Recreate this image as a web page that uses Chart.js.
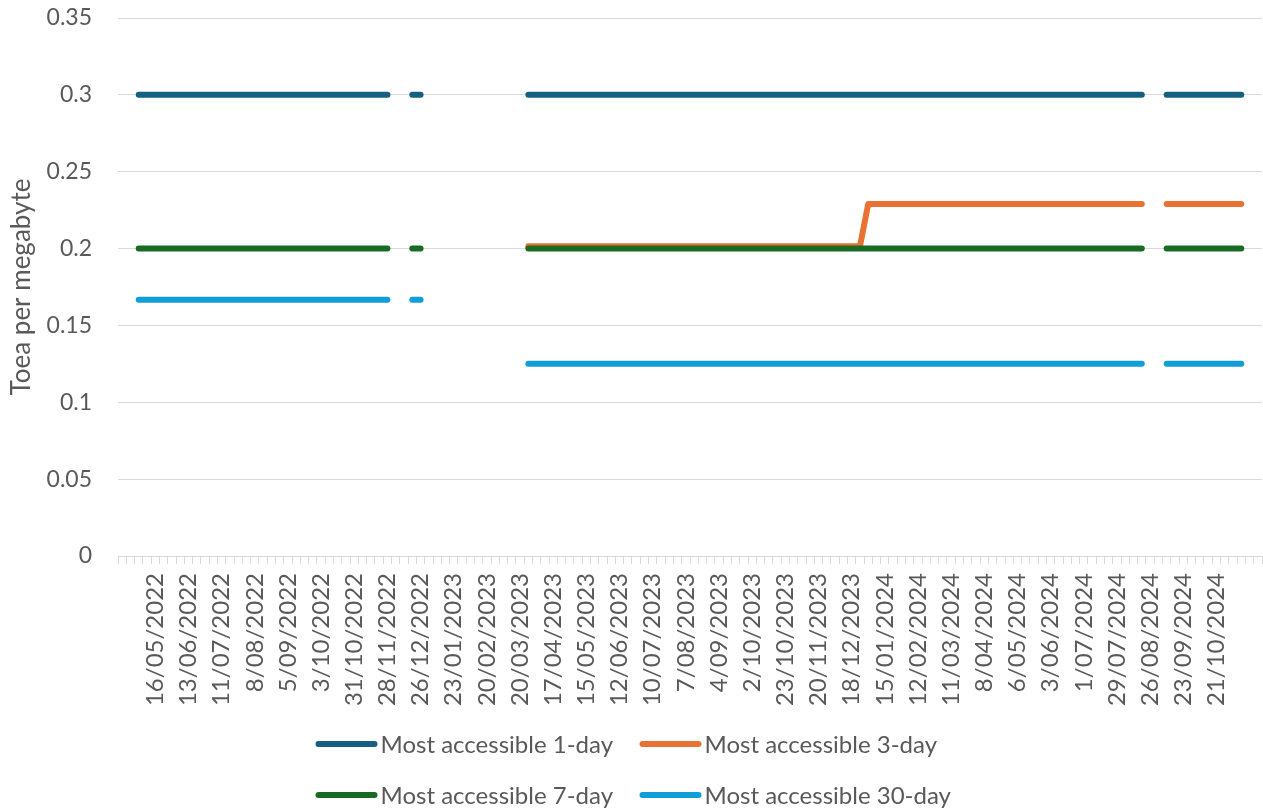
<!DOCTYPE html>
<html>
<head>
<meta charset="utf-8">
<script src="https://cdn.jsdelivr.net/npm/chart.js@4.4.1/dist/chart.umd.min.js"></script>
<style>
  html, body { margin: 0; padding: 0; background: #ffffff; }
  #c { display: block; }
</style>
</head>
<body>
<canvas id="c" width="1263" height="810"></canvas>
<script>
const _ = null;

// Visible tick labels (every 4th category, starting at category index 4)
const tickLabels = [
  '16/05/2022','13/06/2022','11/07/2022','8/08/2022','5/09/2022','3/10/2022',
  '31/10/2022','28/11/2022','26/12/2022','23/01/2023','20/02/2023','20/03/2023',
  '17/04/2023','15/05/2023','12/06/2023','10/07/2023','7/08/2023','4/09/2023',
  '2/10/2023','23/10/2023','20/11/2023','18/12/2023','15/01/2024','12/02/2024',
  '11/03/2024','8/04/2024','6/05/2024','3/06/2024','1/07/2024','29/07/2024',
  '26/08/2024','23/09/2024','21/10/2024'
];
const categoryCount = 138;
const firstLabelIndex = 4;
const labelEvery = 4;

const seriesNames = [
  'Most accessible 1-day',
  'Most accessible 3-day',
  'Most accessible 7-day',
  'Most accessible 30-day'
];

const oneDay = [
  _, _,
  0.3, 0.3, 0.3, 0.3, 0.3, 0.3, 0.3, 0.3, 0.3, 0.3,
  0.3, 0.3, 0.3, 0.3, 0.3, 0.3, 0.3, 0.3, 0.3, 0.3,
  0.3, 0.3, 0.3, 0.3, 0.3, 0.3, 0.3, 0.3, 0.3, 0.3,
  0.3,
  _, _,
  0.3, 0.3,
  _, _, _, _, _, _, _, _, _, _, _, _,
  0.3, 0.3, 0.3, 0.3, 0.3, 0.3, 0.3, 0.3, 0.3, 0.3,
  0.3, 0.3, 0.3, 0.3, 0.3, 0.3, 0.3, 0.3, 0.3, 0.3,
  0.3, 0.3, 0.3, 0.3, 0.3, 0.3, 0.3, 0.3, 0.3, 0.3,
  0.3, 0.3, 0.3, 0.3, 0.3, 0.3, 0.3, 0.3, 0.3, 0.3,
  0.3, 0.3, 0.3, 0.3, 0.3, 0.3, 0.3, 0.3, 0.3, 0.3,
  0.3, 0.3, 0.3, 0.3, 0.3, 0.3, 0.3, 0.3, 0.3, 0.3,
  0.3, 0.3, 0.3, 0.3, 0.3, 0.3, 0.3, 0.3, 0.3, 0.3,
  0.3, 0.3, 0.3, 0.3, 0.3,
  _, _,
  0.3, 0.3, 0.3, 0.3, 0.3, 0.3, 0.3, 0.3, 0.3, 0.3,
  _, _
];

const threeDay = [
  _, _,
  _, _, _, _, _, _, _, _, _, _,
  _, _, _, _, _, _, _, _, _, _,
  _, _, _, _, _, _, _, _, _, _,
  _,
  _, _,
  _, _,
  _, _, _, _, _, _, _, _, _, _, _, _,
  0.2015, 0.2015, 0.2015, 0.2015, 0.2015, 0.2015, 0.2015, 0.2015, 0.2015, 0.2015,
  0.2015, 0.2015, 0.2015, 0.2015, 0.2015, 0.2015, 0.2015, 0.2015, 0.2015, 0.2015,
  0.2015, 0.2015, 0.2015, 0.2015, 0.2015, 0.2015, 0.2015, 0.2015, 0.2015, 0.2015,
  0.2015, 0.2015, 0.2015, 0.2015, 0.2015, 0.2015, 0.2015, 0.2015, 0.2015, 0.2015,
  0.2015, 0.229, 0.229, 0.229, 0.229, 0.229, 0.229, 0.229, 0.229, 0.229,
  0.229, 0.229, 0.229, 0.229, 0.229, 0.229, 0.229, 0.229, 0.229, 0.229,
  0.229, 0.229, 0.229, 0.229, 0.229, 0.229, 0.229, 0.229, 0.229, 0.229,
  0.229, 0.229, 0.229, 0.229, 0.229,
  _, _,
  0.229, 0.229, 0.229, 0.229, 0.229, 0.229, 0.229, 0.229, 0.229, 0.229,
  _, _
];

const sevenDay = [
  _, _,
  0.2, 0.2, 0.2, 0.2, 0.2, 0.2, 0.2, 0.2, 0.2, 0.2,
  0.2, 0.2, 0.2, 0.2, 0.2, 0.2, 0.2, 0.2, 0.2, 0.2,
  0.2, 0.2, 0.2, 0.2, 0.2, 0.2, 0.2, 0.2, 0.2, 0.2,
  0.2,
  _, _,
  0.2, 0.2,
  _, _, _, _, _, _, _, _, _, _, _, _,
  0.2, 0.2, 0.2, 0.2, 0.2, 0.2, 0.2, 0.2, 0.2, 0.2,
  0.2, 0.2, 0.2, 0.2, 0.2, 0.2, 0.2, 0.2, 0.2, 0.2,
  0.2, 0.2, 0.2, 0.2, 0.2, 0.2, 0.2, 0.2, 0.2, 0.2,
  0.2, 0.2, 0.2, 0.2, 0.2, 0.2, 0.2, 0.2, 0.2, 0.2,
  0.2, 0.2, 0.2, 0.2, 0.2, 0.2, 0.2, 0.2, 0.2, 0.2,
  0.2, 0.2, 0.2, 0.2, 0.2, 0.2, 0.2, 0.2, 0.2, 0.2,
  0.2, 0.2, 0.2, 0.2, 0.2, 0.2, 0.2, 0.2, 0.2, 0.2,
  0.2, 0.2, 0.2, 0.2, 0.2,
  _, _,
  0.2, 0.2, 0.2, 0.2, 0.2, 0.2, 0.2, 0.2, 0.2, 0.2,
  _, _
];

const thirtyDay = [
  _, _,
  0.1667, 0.1667, 0.1667, 0.1667, 0.1667, 0.1667, 0.1667, 0.1667, 0.1667, 0.1667,
  0.1667, 0.1667, 0.1667, 0.1667, 0.1667, 0.1667, 0.1667, 0.1667, 0.1667, 0.1667,
  0.1667, 0.1667, 0.1667, 0.1667, 0.1667, 0.1667, 0.1667, 0.1667, 0.1667, 0.1667,
  0.1667,
  _, _,
  0.1667, 0.1667,
  _, _, _, _, _, _, _, _, _, _, _, _,
  0.125, 0.125, 0.125, 0.125, 0.125, 0.125, 0.125, 0.125, 0.125, 0.125,
  0.125, 0.125, 0.125, 0.125, 0.125, 0.125, 0.125, 0.125, 0.125, 0.125,
  0.125, 0.125, 0.125, 0.125, 0.125, 0.125, 0.125, 0.125, 0.125, 0.125,
  0.125, 0.125, 0.125, 0.125, 0.125, 0.125, 0.125, 0.125, 0.125, 0.125,
  0.125, 0.125, 0.125, 0.125, 0.125, 0.125, 0.125, 0.125, 0.125, 0.125,
  0.125, 0.125, 0.125, 0.125, 0.125, 0.125, 0.125, 0.125, 0.125, 0.125,
  0.125, 0.125, 0.125, 0.125, 0.125, 0.125, 0.125, 0.125, 0.125, 0.125,
  0.125, 0.125, 0.125, 0.125, 0.125,
  _, _,
  0.125, 0.125, 0.125, 0.125, 0.125, 0.125, 0.125, 0.125, 0.125, 0.125,
  _, _
];

const seriesColors = ['#156082', '#E97132', '#196B24', '#0F9ED5'];

// Build the category list: only every 4th category carries a visible label
const categories = Array.from({ length: categoryCount }, (v, i) => {
  const j = (i - firstLabelIndex) / labelEvery;
  return (Number.isInteger(j) && j >= 0 && j < tickLabels.length) ? tickLabels[j] : '';
});

const FONT = 'Lato, "Open Sans", "DejaVu Sans", sans-serif';
const TEXT = '#595959';
const GRID = '#D9D9D9';

const allSeries = [oneDay, threeDay, sevenDay, thirtyDay];
const datasets = allSeries.map((data, i) => ({
  label: seriesNames[i],
  data: data,
  borderColor: seriesColors[i],
  backgroundColor: seriesColors[i],
  borderWidth: 6,
  borderCapStyle: 'round',
  borderJoinStyle: 'round',
  pointRadius: 0,
  pointHoverRadius: 0,
  tension: 0,
  spanGaps: false,
  fill: false,
  order: allSeries.length - i
}));

const customLegend = {
  id: 'customLegend',
  afterDraw(chart) {
    const ctx = chart.ctx;
    const ds = chart.data.datasets;
    const cx = chart.width / 2;
    const colX = [cx - 316, cx + 8];
    const rowY = [chart.height - 66, chart.height - 15];
    ctx.save();
    ctx.font = '24px ' + FONT;
    ctx.textBaseline = 'middle';
    ctx.textAlign = 'left';
    ds.forEach((d, i) => {
      const x = colX[i % 2];
      const y = rowY[Math.floor(i / 2)];
      ctx.beginPath();
      ctx.strokeStyle = d.borderColor;
      ctx.lineWidth = 6;
      ctx.lineCap = 'round';
      ctx.moveTo(x + 3, y);
      ctx.lineTo(x + 59, y);
      ctx.stroke();
      ctx.fillStyle = TEXT;
      ctx.fillText(d.label, x + 65, y + 1);
    });
    ctx.restore();
  }
};

new Chart(document.getElementById('c'), {
  type: 'line',
  data: { labels: categories, datasets: datasets },
  options: {
    responsive: false,
    animation: false,
    devicePixelRatio: 1,
    layout: { padding: { top: 18, right: 1, bottom: 90, left: 0 } },
    plugins: {
      legend: { display: false },
      tooltip: { enabled: false }
    },
    scales: {
      x: {
        type: 'category',
        offset: true,
        grid: {
          display: true,
          offset: true,
          drawOnChartArea: false,
          drawTicks: true,
          tickLength: 8,
          color: GRID,
          lineWidth: 1
        },
        border: { display: true, color: GRID, width: 1 },
        ticks: {
          autoSkip: false,
          maxRotation: 90,
          minRotation: 90,
          padding: 9,
          color: TEXT,
          font: { family: FONT, size: 24 },
          callback: function (v, i) { return categories[i]; }
        },
        afterFit(scale) {
          scale.height = 164;
          scale.paddingLeft = 0;
          scale.paddingRight = 0;
        }
      },
      y: {
        min: 0,
        max: 0.35,
        ticks: {
          stepSize: 0.05,
          padding: 26,
          color: TEXT,
          font: { family: FONT, size: 23 },
          callback: function (v) { return String(Math.round(v * 100) / 100); }
        },
        grid: { color: GRID, lineWidth: 1, drawTicks: false },
        border: { display: false },
        title: {
          display: true,
          text: 'Toea per megabyte',
          color: TEXT,
          font: { family: FONT, size: 26 },
          padding: { top: 6, bottom: 0 }
        },
        afterFit(scale) {
          scale.width = 118;
          scale.paddingTop = 0;
          scale.paddingBottom = 0;
        }
      }
    }
  },
  plugins: [customLegend]
});
</script>
</body>
</html>
